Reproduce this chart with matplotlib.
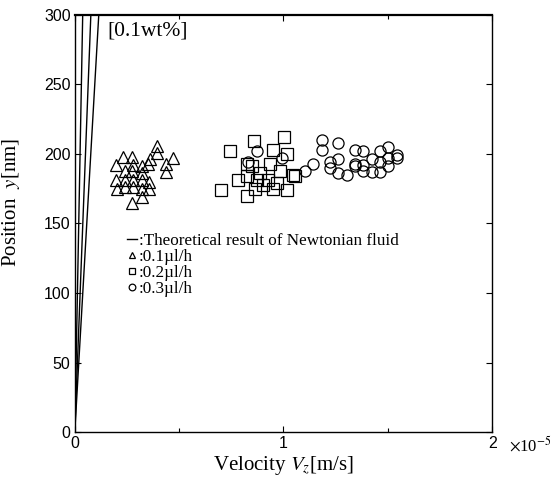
import matplotlib
matplotlib.use("Agg")
import matplotlib.pyplot as plt
import numpy as np

matplotlib.rcParams["mathtext.fontset"] = "stix"

SERIF = ["Liberation Serif", "DejaVu Serif"]
SANS = ["Liberation Sans", "DejaVu Sans"]

# theoretical (Newtonian) velocity at y = 300 nm, units of 1e-5 m/s
theory_y = [0, 300]
theory_vz_top = [0.038, 0.077, 0.115]

# 0.1 ul/h  (Vz in 1e-5 m/s, y in nm)
tri_vz = [0.197, 0.232, 0.275, 0.320, 0.360, 0.395, 0.395, 0.435, 0.435, 0.472,
          0.197, 0.240, 0.280, 0.320, 0.356, 0.275, 0.240, 0.280, 0.320, 0.275,
          0.356, 0.200, 0.240, 0.320, 0.280, 0.320, 0.352]
tri_y = [192, 198, 198, 191, 196, 206, 201, 193, 187, 197,
         181, 181, 181, 181, 180, 188, 188, 176, 169, 165,
         175, 175, 176, 186, 192, 175, 193]

# 0.2 ul/h
sq_vz = [0.743, 0.860, 1.004, 0.951, 1.015, 0.703, 0.783, 0.823, 0.863, 0.823,
         0.887, 0.935, 0.927, 0.967, 1.015, 0.983, 0.903, 0.871, 0.951, 0.847,
         1.047, 0.823, 1.055]
sq_y = [202, 209, 212, 203, 200, 174, 181, 170, 175, 184,
        186, 193, 181, 179, 174, 188, 178, 181, 175, 191,
        185, 193, 184]

# 0.3 ul/h
ci_vz = [1.183, 1.183, 1.263, 1.143, 1.103, 1.223, 1.223, 1.263, 1.303, 1.263,
         1.343, 1.383, 1.343, 1.383, 1.423, 1.463, 1.503, 1.543, 1.503, 1.463,
         1.423, 1.463, 1.503, 1.383, 1.343, 1.543, 0.871, 0.831, 0.991]
ci_y = [210, 203, 208, 193, 188, 194, 190, 186, 185, 196,
        203, 202, 193, 192, 196, 202, 205, 199, 197, 194,
        187, 187, 191, 188, 191, 197, 202, 194, 197]

fig = plt.figure(figsize=(5.58, 4.79), dpi=100)
ax = fig.add_axes([0.134, 0.098, 0.748, 0.871])

line_handle = None
for k in theory_vz_top:
    (ln,) = ax.plot([0, k], theory_y, color="black", lw=1.0)
    if line_handle is None:
        line_handle = ln

mk = dict(linestyle="none", markerfacecolor="none", markeredgecolor="black",
          markeredgewidth=0.9)
(h_tri,) = ax.plot(tri_vz, tri_y, marker="^", markersize=8, **mk)
(h_sq,) = ax.plot(sq_vz, sq_y, marker="s", markersize=8, **mk)
(h_ci,) = ax.plot(ci_vz, ci_y, marker="o", markersize=8, **mk)

ax.set_xlim(0, 2)
ax.set_ylim(0, 300)
ax.set_xticks([0, 1, 2])
ax.set_xticks([0.5, 1.5], minor=True)
ax.set_yticks(np.arange(0, 301, 50))
ax.tick_params(which="both", direction="in", top=True, right=True,
               length=4, width=0.8, labelsize=11.5, pad=3)
ax.tick_params(which="minor", length=3)
for lab in ax.get_xticklabels() + ax.get_yticklabels():
    lab.set_family(SANS)
for sp in ax.spines.values():
    sp.set_linewidth(1.0)
ax.spines["top"].set_linewidth(1.6)

ax.set_xlabel("Velocity $V_z$[m/s]", family=SERIF, fontsize=15)
ax.set_ylabel("Position  $y$[nm]", family=SERIF, fontsize=15)
ax.xaxis.set_label_coords(0.5, -0.052)
ax.yaxis.set_label_coords(-0.127, 0.55)

ax.text(1.04, -0.033, r"$\times$10$^{-5}$", transform=ax.transAxes,
        family=SERIF, fontsize=12, va="center", ha="left")
ax.text(0.077, 0.985, "[0.1wt%]", transform=ax.transAxes,
        family=SERIF, fontsize=15.5, va="top", ha="left")

leg = ax.legend([line_handle, h_tri, h_sq, h_ci],
                [":Theoretical result of Newtonian fluid", ":0.1\u00b5l/h",
                 ":0.2\u00b5l/h", ":0.3\u00b5l/h"],
                loc="upper left", bbox_to_anchor=(0.125, 0.478),
                frameon=False, handlelength=0.6, handletextpad=0.1,
                labelspacing=0.0, markerscale=0.6, borderpad=0,
                borderaxespad=0, prop={"family": SERIF, "size": 12.3})

fig.savefig("out.png", dpi=100)
